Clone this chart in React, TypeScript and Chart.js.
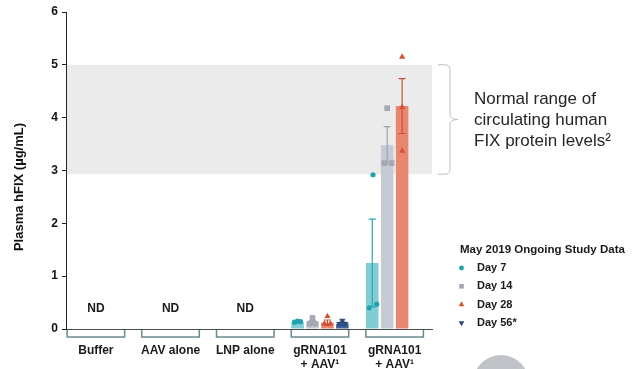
import React, { useEffect, useRef } from 'react';
import { Chart, registerables } from 'chart.js';

Chart.register(...registerables);

const FONT = "Arial, 'Liberation Sans', sans-serif";

// ---- data ----
const categories: string[][] = [
  ['Buffer'],
  ['AAV alone'],
  ['LNP alone'],
  ['gRNA101', '+ AAV\u00B9'],
  ['gRNA101', '+ AAV\u00B9'],
];
const ndGroups = [0, 1, 2];
const ndLabel = 'ND';
const yAxisTitle = 'Plasma hFIX (\u00B5g/mL)';
const normalRange = [2.93, 5];
const annotationLines = ['Normal range of', 'circulating human', 'FIX protein levels\u00B2'];
const legendTitle = 'May 2019 Ongoing Study Data';

const seriesNames = ['Day 7', 'Day 14', 'Day 28', 'Day 56*'];
const barGroups = [3, 4];
const day7Means = [0.13, 1.25];
const day14Means = [0.12, 3.48];
const day28Means = [0.12, 4.22];
const day56Means = [0.1];
const day7Sd = [0.02, 0.83];
const day14Sd = [0.04, 0.35];
const day28Sd = [0.05, 0.52];
const day56Sd = [0.03];

const day7Points = [[2.66, 0.13], [2.7, 0.15], [2.74, 0.14], [3.66, 0.4], [3.71, 2.92], [3.76, 0.47]];
const day14Points = [[2.86, 0.1], [2.9, 0.21], [2.94, 0.1], [3.9, 4.18], [3.86, 3.14], [3.96, 3.14]];
const day28Points = [[3.06, 0.1], [3.1, 0.24], [3.14, 0.1], [4.1, 5.15], [4.1, 4.2], [4.1, 3.37]];
const day56Points = [[3.26, 0.1], [3.3, 0.16], [3.34, 0.1]];

// ---- styles ----
const barColors = ['#80CDD4', '#C6CBD3', '#E8866F', '#41639A'];
const pointColors = ['#1FA4AE', '#A3A8B3', '#D2533A', '#2B4A7D'];
const errColors = ['#2BA6AE', '#9DA3AD', '#C8513A', '#2B4A7D'];
const pointStyles = ['circle', 'rect', 'triangle', 'triangle'];
const pointRotations = [0, 0, 0, 180];
const pointRadii = [2.6, 4, 3.6, 3.6];

const means = [day7Means, day14Means, day28Means, day56Means];
const sds = [day7Sd, day14Sd, day28Sd, day56Sd];
const points = [day7Points, day14Points, day28Points, day56Points];

function drawMarker(ctx: CanvasRenderingContext2D, style: string, rot: number, x: number, y: number, r: number, color: string) {
  ctx.save();
  ctx.fillStyle = color;
  ctx.beginPath();
  if (style === 'circle') {
    ctx.arc(x, y, r, 0, Math.PI * 2);
  } else if (style === 'rect') {
    const s = r * Math.SQRT1_2;
    ctx.rect(x - s, y - s, 2 * s, 2 * s);
  } else {
    const dir = rot === 180 ? -1 : 1;
    ctx.moveTo(x, y - dir * r);
    ctx.lineTo(x - r * 0.866, y + dir * r * 0.5);
    ctx.lineTo(x + r * 0.866, y + dir * r * 0.5);
    ctx.closePath();
  }
  ctx.fill();
  ctx.restore();
}

const decorPlugin = {
  id: 'decor',
  beforeDatasetsDraw(chart: any) {
    const { ctx, chartArea, scales } = chart;
    const y = scales.y;
    const top = y.getPixelForValue(normalRange[1]);
    const bot = y.getPixelForValue(normalRange[0]);
    ctx.save();
    ctx.fillStyle = '#EBEBEC';
    ctx.fillRect(chartArea.left + 1, top, chartArea.right - chartArea.left - 1, bot - top);
    ctx.restore();
  },
  afterDatasetDraw(chart: any, args: any) {
    const ds = chart.data.datasets[args.index];
    if (ds.type !== 'bar') return;
    const k = ds.seriesIndex;
    const { ctx, scales } = chart;
    const y = scales.y;
    ctx.save();
    ctx.strokeStyle = errColors[k];
    ctx.lineWidth = 1.2;
    args.meta.data.forEach((bar: any, i: number) => {
      const m = means[k][i];
      const sd = sds[k][i];
      const yt = y.getPixelForValue(m + sd);
      const yb = y.getPixelForValue(Math.max(0, m - sd));
      const x = bar.x;
      ctx.beginPath();
      ctx.moveTo(x, yt);
      ctx.lineTo(x, yb);
      ctx.moveTo(x - 3.5, yt);
      ctx.lineTo(x + 3.5, yt);
      ctx.moveTo(x - 3.5, yb);
      ctx.lineTo(x + 3.5, yb);
      ctx.stroke();
    });
    ctx.restore();
  },
  afterDatasetsDraw(chart: any) {
    const { ctx, scales } = chart;
    ctx.save();
    ctx.fillStyle = '#1a1a1a';
    ctx.font = `bold 12px ${FONT}`;
    ctx.textAlign = 'center';
    ctx.textBaseline = 'middle';
    ndGroups.forEach((g) => {
      ctx.fillText(ndLabel, scales.x.getPixelForValue(g), scales.y.getPixelForValue(0.38));
    });
    ctx.restore();
  },
  afterDraw(chart: any) {
    const { ctx, chartArea, scales } = chart;
    const x = scales.x;
    const y = scales.y;
    ctx.save();
    // y-axis title
    ctx.save();
    ctx.translate(19, 187);
    ctx.rotate(-Math.PI / 2);
    ctx.fillStyle = '#111';
    ctx.font = `bold 13px ${FONT}`;
    ctx.textAlign = 'center';
    ctx.textBaseline = 'middle';
    ctx.fillText(yAxisTitle, 0, 0);
    ctx.restore();

    // group brackets under the axis
    ctx.strokeStyle = '#6A8A90';
    ctx.lineWidth = 1.5;
    categories.forEach((_, i) => {
      const x1 = x.getPixelForValue(i - 0.385);
      const x2 = x.getPixelForValue(i + 0.385);
      const y0 = chartArea.bottom + 1;
      const y1 = chartArea.bottom + 8;
      ctx.beginPath();
      ctx.moveTo(x1, y0);
      ctx.lineTo(x1, y1);
      ctx.lineTo(x2, y1);
      ctx.lineTo(x2, y0);
      ctx.stroke();
    });

    // brace for normal range
    const bt = y.getPixelForValue(normalRange[1]);
    const bb = y.getPixelForValue(normalRange[0]);
    const bm = (bt + bb) / 2;
    const bx0 = chartArea.right + 6;
    const bx1 = chartArea.right + 18;
    const bx2 = chartArea.right + 26;
    ctx.strokeStyle = '#BDBDBD';
    ctx.lineWidth = 1;
    ctx.beginPath();
    ctx.moveTo(bx0, bt);
    ctx.lineTo(bx1 - 5, bt);
    ctx.quadraticCurveTo(bx1, bt, bx1, bt + 5);
    ctx.lineTo(bx1, bm - 5);
    ctx.quadraticCurveTo(bx1, bm, bx2, bm);
    ctx.quadraticCurveTo(bx1, bm, bx1, bm + 5);
    ctx.lineTo(bx1, bb - 5);
    ctx.quadraticCurveTo(bx1, bb, bx1 - 5, bb);
    ctx.lineTo(bx0, bb);
    ctx.stroke();

    // annotation text
    ctx.fillStyle = '#262626';
    ctx.font = `17px ${FONT}`;
    ctx.textAlign = 'left';
    ctx.textBaseline = 'middle';
    annotationLines.forEach((t, i) => {
      ctx.fillText(t, chartArea.right + 42, bm - 20 + i * 21);
    });

    // legend
    ctx.fillStyle = '#1a1a1a';
    ctx.font = `bold 11.5px ${FONT}`;
    ctx.fillText(legendTitle, 460, 249.5);
    ctx.font = `bold 11px ${FONT}`;
    seriesNames.forEach((name, i) => {
      const yy = 268 + i * 18.3;
      drawMarker(ctx, pointStyles[i], pointRotations[i], 461.5, yy, i === 0 ? 2.4 : 3.3, pointColors[i]);
      ctx.fillStyle = '#1a1a1a';
      ctx.fillText(name, 477, yy);
    });

    // decorative grey circle at the bottom
    ctx.fillStyle = '#C0C3C8';
    ctx.beginPath();
    ctx.arc(501, 383, 28, 0, Math.PI * 2);
    ctx.fill();
    ctx.restore();
  },
};

export default function App() {
  const ref = useRef<HTMLCanvasElement>(null);
  useEffect(() => {
    document.body.style.margin = '0';
    const barSets = means.map((arr, k) => ({
      type: 'bar',
      label: seriesNames[k],
      seriesIndex: k,
      data: arr.map((v, i) => ({ x: barGroups[i], y: v })),
      backgroundColor: barColors[k],
      borderWidth: 0,
      categoryPercentage: 0.8,
      barPercentage: 0.84,
      order: 2,
    }));
    const pointSets = points.map((arr, k) => ({
      type: 'scatter',
      label: seriesNames[k] + ' points',
      data: arr.map(([px, py]) => ({ x: px, y: py })),
      pointStyle: pointStyles[k],
      rotation: pointRotations[k],
      pointRadius: pointRadii[k],
      backgroundColor: pointColors[k],
      borderColor: pointColors[k],
      borderWidth: 0,
      showLine: false,
      order: 0,
    }));
    const chart = new Chart(ref.current as HTMLCanvasElement, {
      type: 'bar',
      data: { datasets: [...barSets, ...pointSets] as any },
      options: {
        responsive: true,
        maintainAspectRatio: false,
        animation: false,
        layout: { padding: { top: 12, right: 208, left: 0, bottom: 0 } },
        plugins: { legend: { display: false }, tooltip: { enabled: false } },
        scales: {
          x: {
            type: 'linear',
            min: -0.4,
            max: 4.5,
            offset: false,
            afterBuildTicks: (s: any) => {
              s.ticks = categories.map((_, i) => ({ value: i }));
            },
            afterFit: (s: any) => {
              s.height = 40;
            },
            grid: { display: false, drawTicks: false, offset: false },
            border: { display: true, color: '#4A4A4A', width: 1 },
            ticks: {
              autoSkip: false,
              maxRotation: 0,
              minRotation: 0,
              padding: 14,
              color: '#1a1a1a',
              font: { family: FONT, size: 12, weight: 'bold', lineHeight: 1.2 },
              callback: (v: any) => categories[v] ?? '',
            },
          },
          y: {
            min: 0,
            max: 6,
            afterFit: (s: any) => {
              s.width = 66;
            },
            grid: { drawOnChartArea: false, drawTicks: true, tickLength: 4, color: '#222' },
            border: { display: true, color: '#222', width: 1 },
            ticks: {
              stepSize: 1,
              padding: 4,
              color: '#111',
              font: { family: FONT, size: 12, weight: 'bold' },
            },
            title: { display: false },
          },
        },
      } as any,
      plugins: [decorPlugin],
    });
    return () => chart.destroy();
  }, []);
  return (
    <div style={{ width: 640, height: 369, position: 'relative' }}>
      <canvas ref={ref} />
    </div>
  );
}
